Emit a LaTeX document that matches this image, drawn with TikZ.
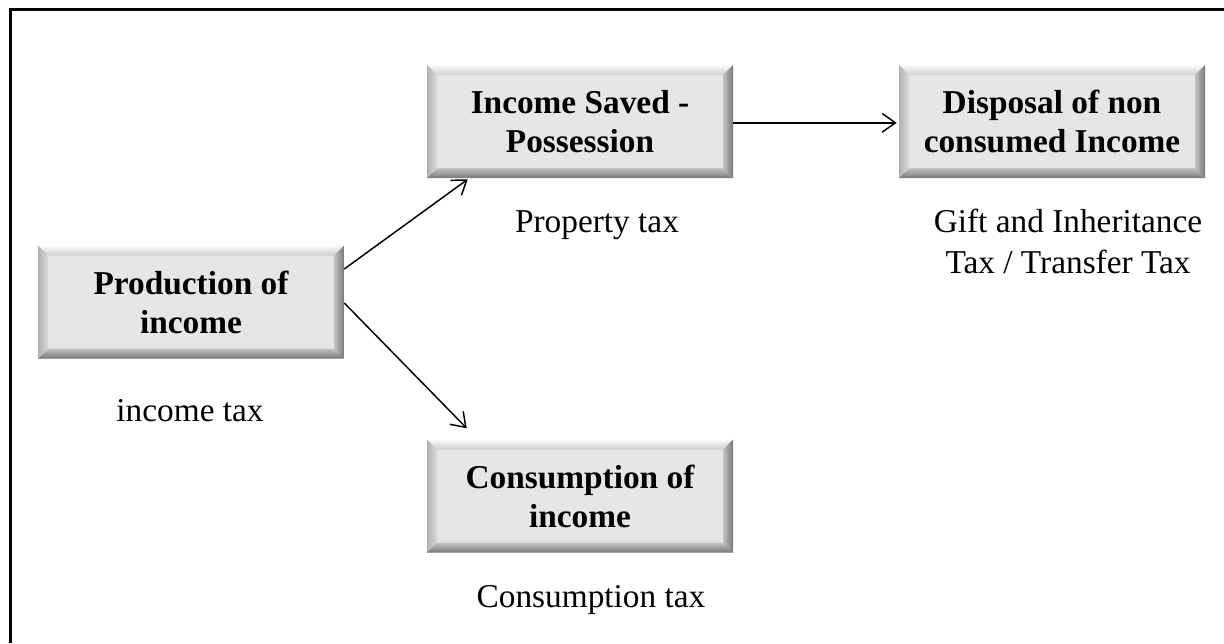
\documentclass[tikz,border=0pt]{standalone}
\usepackage{fontspec}
\setmainfont{Liberation Serif}
\usetikzlibrary{arrows.meta,calc}

\definecolor{boxgray}{RGB}{230,230,230}
\definecolor{bevellight}{RGB}{250,250,250}
\definecolor{beveldark}{RGB}{120,120,120}
\newcommand{\bev}{7.5pt}

\tikzset{
  bevelbox/.style={minimum width=229.5pt, minimum height=84.75pt, inner sep=0pt,
    align=center, fill=boxgray, font=\bfseries\fontsize{25}{29.25}\selectfont,
    path picture={
      \path (path picture bounding box.north west) coordinate (bnw)
            (path picture bounding box.north east) coordinate (bne)
            (path picture bounding box.south west) coordinate (bsw)
            (path picture bounding box.south east) coordinate (bse);
      \shade[top color=bevellight, bottom color=boxgray!90!black]
        (bnw) -- (bne) -- ([shift={(-\bev,-\bev)}]bne) -- ([shift={(\bev,-\bev)}]bnw) -- cycle;
      \shade[left color=gray!60, right color=boxgray!95!black]
        (bnw) -- ([shift={(\bev,-\bev)}]bnw) -- ([shift={(\bev,\bev)}]bsw) -- (bsw) -- cycle;
      \shade[top color=boxgray!85!black, bottom color=beveldark]
        (bsw) -- ([shift={(\bev,\bev)}]bsw) -- ([shift={(-\bev,\bev)}]bse) -- (bse) -- cycle;
      \shade[left color=boxgray!85!black, right color=beveldark]
        (bne) -- (bse) -- ([shift={(-\bev,\bev)}]bse) -- ([shift={(-\bev,-\bev)}]bne) -- cycle;
    }},
  taxlabel/.style={anchor=base, align=center, inner sep=0pt,
    font=\fontsize{25}{30.75}\selectfont},
  flow/.style={line width=1.1pt, -{Straight Barb[length=10pt,width=14pt,line width=1.1pt]}}
}

\begin{document}
\begin{tikzpicture}[x=0.75pt,y=-0.75pt]
  \useasboundingbox (0,0) rectangle (1224,643);
  % Frame (top and left edge)
  \draw[line width=2.25pt] (10.5,643) -- (10.5,9.5) -- (1224,9.5);

  % Stages of income
  \node[bevelbox] (prod) at (191,302) {Production of\\income};
  \node[bevelbox] (saved) at (580,121.5) {Income Saved -\\Possession};
  \node[bevelbox] (disposal) at (1052,121.5) {Disposal of non\\consumed Income};
  \node[bevelbox] (consump) at (580,496) {Consumption of\\income};

  % Taxes
  \node[taxlabel] (incometax) at (190,421) {income tax};
  \node[taxlabel] (propertytax) at (597,232) {Property tax};
  \node[taxlabel] (gifttax) at (1068,273) {Gift and Inheritance\\Tax / Transfer Tax};
  \node[taxlabel] (consumptax) at (591,607) {Consumption tax};

  % Flows
  \draw[flow] ([yshift=24.75pt]prod.east) -- ([xshift=30.75pt,yshift=-0.75pt]saved.south west);
  \draw[flow] ([yshift=-0.75pt]prod.east) -- ([xshift=30pt,yshift=8.25pt]consump.north west);
  \draw[flow, shorten >=1.5pt] ([yshift=-1pt]saved.east) -- ([yshift=-1pt]disposal.west);
\end{tikzpicture}
\end{document}
